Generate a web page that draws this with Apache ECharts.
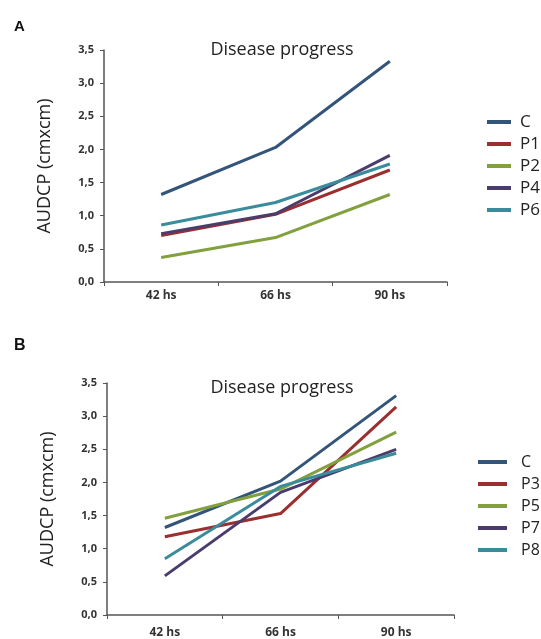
<!DOCTYPE html>
<html>
<head>
<meta charset="utf-8">
<script src="https://cdn.jsdelivr.net/npm/echarts@6/dist/echarts.min.js"></script>
<style>html,body{margin:0;padding:0;background:#fff;}#c{width:541px;height:639px;}</style>
</head>
<body>
<div id="c"></div>
<script>
const categories = ['42 hs', '66 hs', '90 hs'];
const yTickLabels = ['0,0', '0,5', '1,0', '1,5', '2,0', '2,5', '3,0', '3,5'];

// Panel A
const namesA = ['C', 'P1', 'P2', 'P4', 'P6'];
const A_C  = [1.32, 2.03, 3.33];
const A_P1 = [0.70, 1.02, 1.69];
const A_P2 = [0.37, 0.67, 1.32];
const A_P4 = [0.73, 1.03, 1.91];
const A_P6 = [0.86, 1.20, 1.78];

// Panel B
const namesB = ['C', 'P3', 'P5', 'P7', 'P8'];
const B_C  = [1.32, 2.02, 3.31];
const B_P3 = [1.18, 1.53, 3.14];
const B_P5 = [1.46, 1.90, 2.76];
const B_P7 = [0.59, 1.85, 2.50];
const B_P8 = [0.85, 1.94, 2.44];

const colA = ['#34557a', '#9b2f2f', '#83a03f', '#4a3d6e', '#3a8c9c'];
const colB = ['#34557a', '#9b2f2f', '#83a03f', '#4a3d6e', '#3a8c9c'];

const font = 'Open Sans, Liberation Sans, sans-serif';
const axisLineStyle = { color: '#555', width: 1.5 };

function xAx(gi, margin) {
  return {
    type: 'category', gridIndex: gi, data: categories,
    axisLine: { lineStyle: axisLineStyle },
    axisTick: { show: true, length: 4, lineStyle: { color: '#555' } },
    axisLabel: { fontSize: 12, fontWeight: 'bold', color: '#333', margin: margin, fontFamily: font }
  };
}
function yAx(gi) {
  return {
    type: 'value', gridIndex: gi, min: 0, max: 3.5, interval: 0.5,
    name: 'AUDCP (cmxcm)', nameLocation: 'middle', nameRotate: 90, nameGap: 50,
    nameTextStyle: { fontSize: 18, color: '#222', fontFamily: font },
    splitLine: { show: false },
    axisLine: { show: true, lineStyle: axisLineStyle },
    axisTick: { show: true, length: 4, lineStyle: { color: '#555' } },
    axisLabel: { fontSize: 11, fontWeight: 'bold', color: '#333', margin: 10, fontFamily: font,
      formatter: v => yTickLabels[Math.round(v / 0.5)] }
  };
}
function ser(name, data, color, gi) {
  return {
    type: 'line', name: name, data: data, xAxisIndex: gi, yAxisIndex: gi,
    symbol: 'none', lineStyle: { width: 3, color: color }, itemStyle: { color: color },
    animation: false
  };
}

const seriesA = [A_C, A_P1, A_P2, A_P4, A_P6].map((d, i) => ser(namesA[i], d, colA[i], 0));
const seriesB = [B_C, B_P3, B_P5, B_P7, B_P8].map((d, i) => ser(namesB[i], d, colB[i], 1));

const chart = echarts.init(document.getElementById('c'), null, { renderer: 'canvas' });
chart.setOption({
  backgroundColor: '#fff',
  animation: false,
  title: [
    { text: 'A', left: 9, top: 14, textStyle: { fontSize: 15, fontWeight: 'bold', color: '#111', fontFamily: 'Liberation Sans, sans-serif' } },
    { text: 'Disease progress', left: 277, top: 36, textAlign: 'center', textStyle: { fontSize: 18, fontWeight: 'normal', color: '#222', fontFamily: font } },
    { text: 'B', left: 9, top: 333, textStyle: { fontSize: 16, fontWeight: 'bold', color: '#111', fontFamily: 'Liberation Sans, sans-serif' } },
    { text: 'Disease progress', left: 277, top: 374, textAlign: 'center', textStyle: { fontSize: 18, fontWeight: 'normal', color: '#222', fontFamily: font } }
  ],
  grid: [
    { left: 104, right: 94, top: 50, bottom: 357, containLabel: false },
    { left: 107, right: 87, top: 383, bottom: 24, containLabel: false }
  ],
  xAxis: [xAx(0, 8), xAx(1, 12)],
  yAxis: [yAx(0), yAx(1)],
  legend: [
    {
      orient: 'vertical', icon: 'rect', itemWidth: 24, itemHeight: 4, itemGap: 4,
      left: 487, top: 113, padding: 0, selectedMode: false,
      textStyle: { fontSize: 17, color: '#222', lineHeight: 18, fontFamily: font, padding: [0, 0, 0, 4] },
      data: namesA.map((n, i) => ({ name: n, itemStyle: { color: colA[i] } }))
    },
    {
      orient: 'vertical', icon: 'rect', itemWidth: 29, itemHeight: 4, itemGap: 4,
      left: 478, top: 453, padding: 0, selectedMode: false,
      textStyle: { fontSize: 16, color: '#222', lineHeight: 18, fontFamily: font, padding: [0, 0, 0, 9] },
      data: namesB.map((n, i) => ({ name: n, itemStyle: { color: colB[i] } }))
    }
  ],
  series: seriesA.concat(seriesB)
});
</script>
</body>
</html>
